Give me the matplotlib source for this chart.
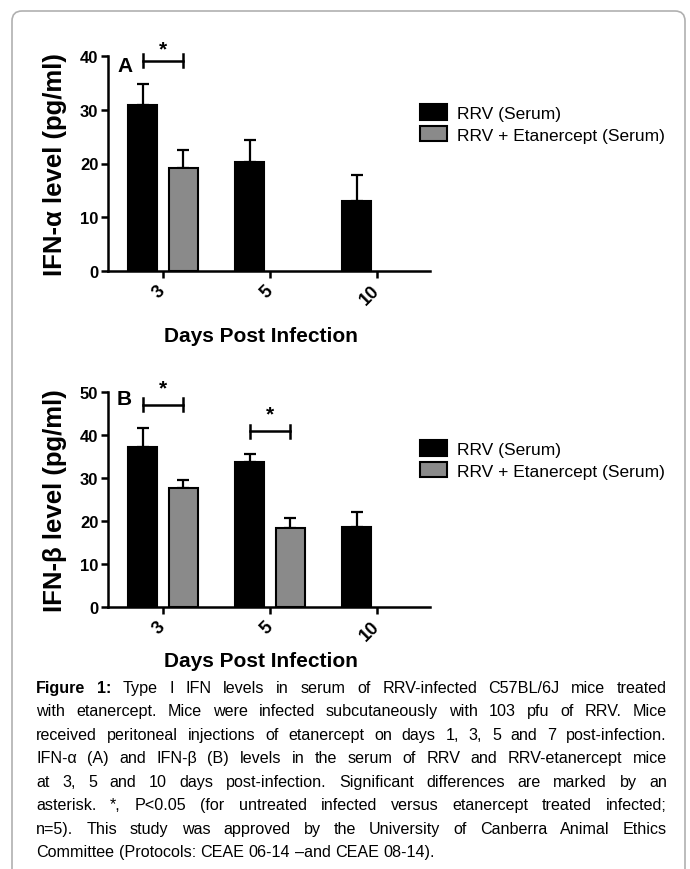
import matplotlib
matplotlib.use('Agg')
import matplotlib.pyplot as plt
import numpy as np
from matplotlib.patches import FancyBboxPatch, Patch
from matplotlib.transforms import IdentityTransform

plt.rcParams['font.family'] = ['Liberation Sans', 'DejaVu Sans']

# ---- data ----
days = ['3', '5', '10']
alpha_rrv = [30.8, 20.3, 13.0]
alpha_rrv_err = [3.9, 4.1, 4.9]
alpha_etn = [19.1, np.nan, np.nan]
alpha_etn_err = [3.4, 0.0, 0.0]
beta_rrv = [37.3, 33.7, 18.7]
beta_rrv_err = [4.3, 1.8, 3.3]
beta_etn = [27.7, 18.4, np.nan]
beta_etn_err = [1.8, 2.3, 0.0]

# significance brackets: (day index, bracket height, star height)
alpha_sig = [(0, 39.1, 41.3)]
beta_sig = [(0, 47.0, 50.9), (1, 40.9, 44.9)]

legend_labels = ['RRV (Serum)', 'RRV + Etanercept (Serum)']

caption = [
    'Figure 1: Type I IFN levels in serum of RRV-infected C57BL/6J mice treated',
    'with etanercept. Mice were infected subcutaneously with 103 pfu of RRV. Mice',
    'received peritoneal injections of etanercept on days 1, 3, 5 and 7 post-infection.',
    'IFN-α (A) and IFN-β (B) levels in the serum of RRV and RRV-etanercept mice',
    'at 3, 5 and 10 days post-infection. Significant differences are marked by an',
    'asterisk. *, P<0.05 (for untreated infected versus etanercept treated infected;',
    'n=5). This study was approved by the University of Canberra Animal Ethics',
    'Committee (Protocols: CEAE 06-14 –and CEAE 08-14).',
]

GRAY = '#8a8a8a'
W, H = 690, 870
fig = plt.figure(figsize=(W / 100, H / 100), dpi=100)
fig.patch.set_facecolor('white')


def px_axes(left, top, right, bottom):
    return fig.add_axes([left / W, 1 - bottom / H, (right - left) / W, (bottom - top) / H])


def panel(ax, rrv, rrv_err, etn, etn_err, ymax, sig, ylabel, xlab_y):
    x = np.arange(len(days))
    off, bw = 0.19, 0.27
    ax.bar(x - off, rrv, bw, color='black', edgecolor='black', lw=1.5, zorder=2)
    ax.bar(x + off, etn, bw, color=GRAY, edgecolor='black', lw=1.5, zorder=2)
    ax.errorbar(x - off, rrv, yerr=[np.zeros(len(x)), rrv_err], fmt='none', ecolor='black',
                elinewidth=1.6, capsize=4.3, capthick=1.6, zorder=1)
    ax.errorbar(x + off, etn, yerr=[np.zeros(len(x)), etn_err], fmt='none', ecolor='black',
                elinewidth=1.6, capsize=4.3, capthick=1.6, zorder=1)
    for i, yb, ys in sig:
        cap = ymax * 0.03
        ax.plot([i - off, i + off], [yb, yb], color='black', lw=1.8, clip_on=False)
        ax.plot([i - off, i - off], [yb - cap, yb + cap], color='black', lw=1.8, clip_on=False)
        ax.plot([i + off, i + off], [yb - cap, yb + cap], color='black', lw=1.8, clip_on=False)
        ax.text(i, ys, '*', ha='center', va='center', fontsize=15, fontweight='bold')

    ax.set_xlim(-0.514, 2.495)
    ax.set_ylim(0, ymax)
    ax.set_yticks(np.arange(0, ymax + 1, 10))
    ax.set_yticklabels([str(v) for v in range(0, ymax + 1, 10)], fontsize=12, fontweight='bold')
    ax.set_xticks(x)
    ax.set_xticklabels(days, rotation=45, ha='right', va='center', rotation_mode='anchor',
                       fontsize=13, fontweight='bold')
    for s in ['top', 'right']:
        ax.spines[s].set_visible(False)
    for s in ['left', 'bottom']:
        ax.spines[s].set_linewidth(1.8)
    ax.tick_params(axis='both', direction='out', length=5, width=1.8)
    ax.tick_params(axis='x', pad=7)
    ax.tick_params(axis='y', pad=2)

    ax.set_ylabel(ylabel, fontsize=18.5, fontweight='bold')
    ax.yaxis.label.set_va('center')
    ax.yaxis.set_label_coords((55 - 108) / 322, 0.5)
    ax.set_xlabel('Days Post Infection', fontsize=15, fontweight='bold')
    ax.xaxis.label.set_va('center')
    ax.xaxis.set_label_coords(0.475, xlab_y)


ax_a = px_axes(108, 57, 430, 272)
panel(ax_a, alpha_rrv, alpha_rrv_err, alpha_etn, alpha_etn_err, 40, alpha_sig,
      'IFN-α level (pg/ml)', (272 - 337) / 215)
ax_b = px_axes(108, 393, 430, 608)
panel(ax_b, beta_rrv, beta_rrv_err, beta_etn, beta_etn_err, 50, beta_sig,
      'IFN-β level (pg/ml)', (608 - 662) / 215)

fig.text(125 / W, 1 - 66 / H, 'A', ha='center', va='center', fontsize=15, fontweight='bold')
fig.text(124 / W, 1 - 400 / H, 'B', ha='center', va='center', fontsize=15, fontweight='bold')

handles = [Patch(facecolor='black', edgecolor='black', lw=1.5),
           Patch(facecolor=GRAY, edgecolor='black', lw=1.5)]
for yc in (124.5, 460.5):
    fig.legend(handles, legend_labels, loc='center left', bbox_to_anchor=(420 / W, 1 - yc / H),
               frameon=False, fontsize=12.5, handlelength=1.55, handleheight=0.98,
               handletextpad=0.6, labelspacing=0.3, borderpad=0, borderaxespad=0)

# ---- justified caption ----
renderer = fig.canvas.get_renderer()
cap_fs = 11.6


def text_width(s, bold):
    t = fig.text(0, 0, s, fontsize=cap_fs, fontweight='bold' if bold else 'normal')
    w = t.get_window_extent(renderer).width
    t.remove()
    return w


cap_left, cap_right = 36, 667
target = cap_right - cap_left
space = text_width('a a', False) - text_width('aa', False)

for li, line in enumerate(caption):
    words = line.split(' ')
    bold = [li == 0 and wi < 2 for wi in range(len(words))]
    widths = [text_width(w, b) for w, b in zip(words, bold)]
    if li < len(caption) - 1:
        gap = max((target - sum(widths)) / (len(words) - 1), 0.35 * space)
    else:
        gap = space
    xpos = cap_left
    ybase = 693 + li * 23.5
    for w, b, wd in zip(words, bold, widths):
        fig.text(xpos / W, 1 - ybase / H, w, fontsize=cap_fs, va='baseline', ha='left',
                 fontweight='bold' if b else 'normal')
        xpos += wd + gap

# ---- rounded outer frame ----
frame = FancyBboxPatch((12, -30), 673, 858 + 30, boxstyle='round,pad=0,rounding_size=10',
                       facecolor='none', edgecolor='#b0b0b0', lw=1.2,
                       transform=IdentityTransform())
fig.add_artist(frame)

fig.savefig('out.png', dpi=100, facecolor='white')
